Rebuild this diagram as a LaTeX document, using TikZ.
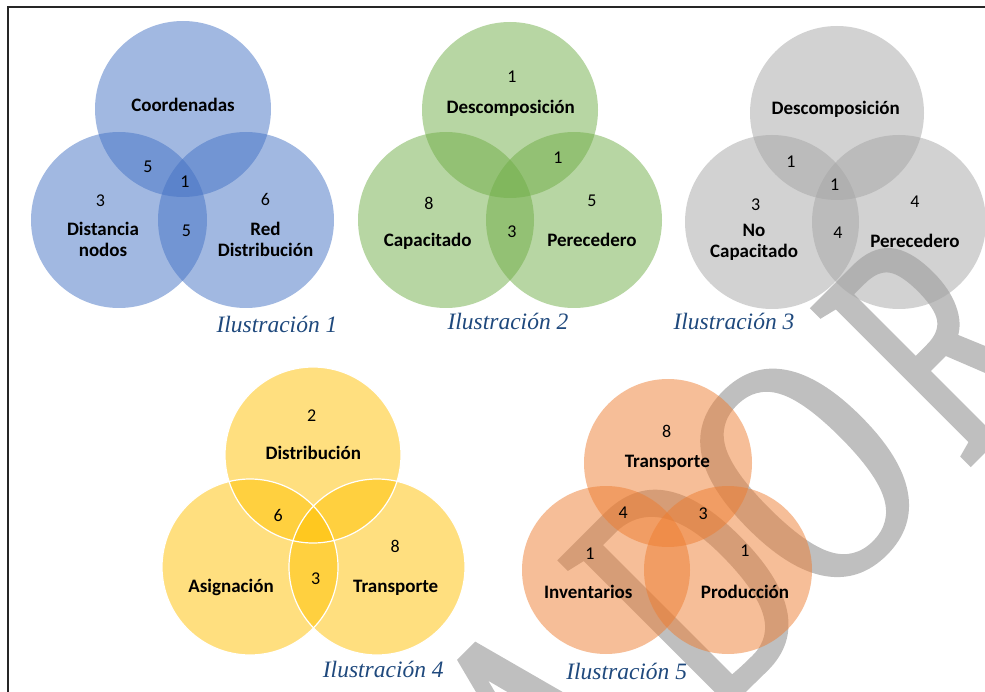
\documentclass[tikz,border=0pt]{standalone}
\usepackage{fontspec}
\setmainfont{Carlito}
\newfontfamily\ilusfont{Liberation Serif}
\newfontfamily\wmfont[FakeBold=2]{Liberation Serif}

\definecolor{vennblue}{HTML}{4472C4}
\definecolor{venngreen}{HTML}{70AD47}
\definecolor{venngray}{HTML}{A5A5A5}
\definecolor{vennyellow}{HTML}{FFC000}
\definecolor{vennorange}{HTML}{ED7D31}
\definecolor{ilusblue}{HTML}{1F497D}
\definecolor{wmgray}{HTML}{BFBFBF}

\tikzset{
    venn/.style={fill opacity=0.5},
    tag/.style={font=\bfseries\fontsize{19}{21}\selectfont, align=center, inner sep=0pt},
    num/.style={font=\fontsize{18}{20}\selectfont, inner sep=0pt, anchor=base},
    ilus/.style={font=\ilusfont\itshape\fontsize{23.5}{26}\selectfont, text=ilusblue, inner sep=0pt, anchor=base},
    wmark/.style={font=\wmfont\fontsize{335}{335}\selectfont, text=wmgray, inner sep=0pt, rotate=45, xscale=0.72, transform shape}
}

\begin{document}
\begin{tikzpicture}[x=1pt,y=-1pt]
            \useasboundingbox (0,0) rectangle (985,692);

            % marca de agua
            \begin{scope}
                \clip (0,0) rectangle (985,692);
                \node [wmark] (wmA) at (548,730) {A};
                \node [wmark, xscale=0.9] (wmD) at (690,588) {D};
                \node [wmark] (wmO) at (805,473) {O};
                \node [wmark, xscale=0.86] (wmR) at (936,342) {R};
            \end{scope}

            \draw [line width=2pt, black!85] (8,692) -- (8,7) -- (985,7);

            % Ilustracion 1
            \coordinate (A1) at (183,109);
            \coordinate (A2) at (119,220);
            \coordinate (A3) at (246,220);
            \fill [venn, vennblue] (A1) circle (88);
            \fill [venn, vennblue] (A2) circle (88);
            \fill [venn, vennblue] (A3) circle (88);
            \node [tag, anchor=base] (coord1) at (183,111.5) {Coordenadas};
            \node [num] (n1a) at (148,173) {5};
            \node [num] (n1b) at (185,188) {1};
            \node [num] (n1c) at (100.5,207) {3};
            \node [num] (n1d) at (265.5,206) {6};
            \node [num] (n1e) at (186.5,237) {5};
            \node [tag] (dist1) at (103,239) {Distancia\\nodos};
            \node [tag] (red1) at (265.5,239) {Red\\Distribución};
            \node [ilus] (il1) at (277,333) {Ilustración 1};

            % Ilustracion 2
            \coordinate (B1) at (510,110);
            \coordinate (B2) at (446,220);
            \coordinate (B3) at (574,220);
            \fill [venn, venngreen] (B1) circle (88);
            \fill [venn, venngreen] (B2) circle (88);
            \fill [venn, venngreen] (B3) circle (88);
            \node [num] (n2a) at (512,82.7) {1};
            \node [tag, anchor=base] (desc2) at (510.7,113.3) {Descomposición};
            \node [num] (n2b) at (558,163.3) {1};
            \node [num] (n2c) at (429,209.3) {8};
            \node [num] (n2d) at (592,206.7) {5};
            \node [num] (n2e) at (512,237.7) {3};
            \node [tag, anchor=base] (capa2) at (427.7,246.7) {Capacitado};
            \node [tag, anchor=base] (pere2) at (592,246.7) {Perecedero};
            \node [ilus] (il2) at (508,330) {Ilustración 2};

            % Ilustracion 3
            \coordinate (C1) at (837,113);
            \coordinate (C2) at (772,222);
            \coordinate (C3) at (899,222);
            \fill [venn, venngray] (C1) circle (87);
            \fill [venn, venngray] (C2) circle (87);
            \fill [venn, venngray] (C3) circle (87);
            \node [tag, anchor=base] (desc3) at (835.7,115) {Descomposición};
            \node [num] (n3a) at (791,167.7) {1};
            \node [num] (n3b) at (834.7,190.7) {1};
            \node [num] (n3c) at (755.7,210.7) {3};
            \node [num] (n3d) at (838,238.3) {4};
            \node [num] (n3e) at (915,207.7) {4};
            \node [tag] (nocap3) at (754,242) {No\\Capacitado};
            \node [tag, anchor=base] (pere3) at (915,247.3) {Perecedero};
            \node [ilus] (il3) at (734,330) {Ilustración 3};

            % Ilustracion 4
            \coordinate (D1) at (313,455);
            \coordinate (D2) at (250,567);
            \coordinate (D3) at (377,567);
            \fill [venn, vennyellow] (D1) circle (88);
            \fill [venn, vennyellow] (D2) circle (88);
            \fill [venn, vennyellow] (D3) circle (88);
            \draw [white, line width=1.2pt] (D1) circle (88) (D2) circle (88) (D3) circle (88);
            \node [num] (n4a) at (311.7,421.7) {2};
            \node [tag, anchor=base] (distr4) at (313.3,459) {Distribución};
            \node [num] (n4b) at (278.3,521.7) {6};
            \node [num] (n4c) at (395.3,552.3) {8};
            \node [num] (n4d) at (315.7,584) {3};
            \node [tag, anchor=base] (asig4) at (231,592.3) {Asignación};
            \node [tag, anchor=base] (trans4) at (395.7,592.3) {Transporte};
            \node [ilus] (il4) at (383.3,677) {Ilustración 4};

            % Ilustracion 5
            \coordinate (E1) at (668,463);
            \coordinate (E2) at (606,570);
            \coordinate (E3) at (728,570);
            \fill [venn, vennorange] (E1) circle (84);
            \fill [venn, vennorange] (E2) circle (84);
            \fill [venn, vennorange] (E3) circle (84);
            \node [num] (n5a) at (666.7,437.7) {8};
            \node [tag, anchor=base] (trans5) at (667.3,467.3) {Transporte};
            \node [num] (n5b) at (623.3,518.3) {4};
            \node [num] (n5c) at (703.3,519.3) {3};
            \node [num] (n5d) at (590,559) {1};
            \node [num] (n5e) at (745,556) {1};
            \node [tag, anchor=base] (inv5) at (588.3,598.3) {Inventarios};
            \node [tag, anchor=base] (prod5) at (745,598.3) {Producción};
            \node [ilus] (il5) at (626.7,679.3) {Ilustración 5};
        \end{tikzpicture}
\end{document}
